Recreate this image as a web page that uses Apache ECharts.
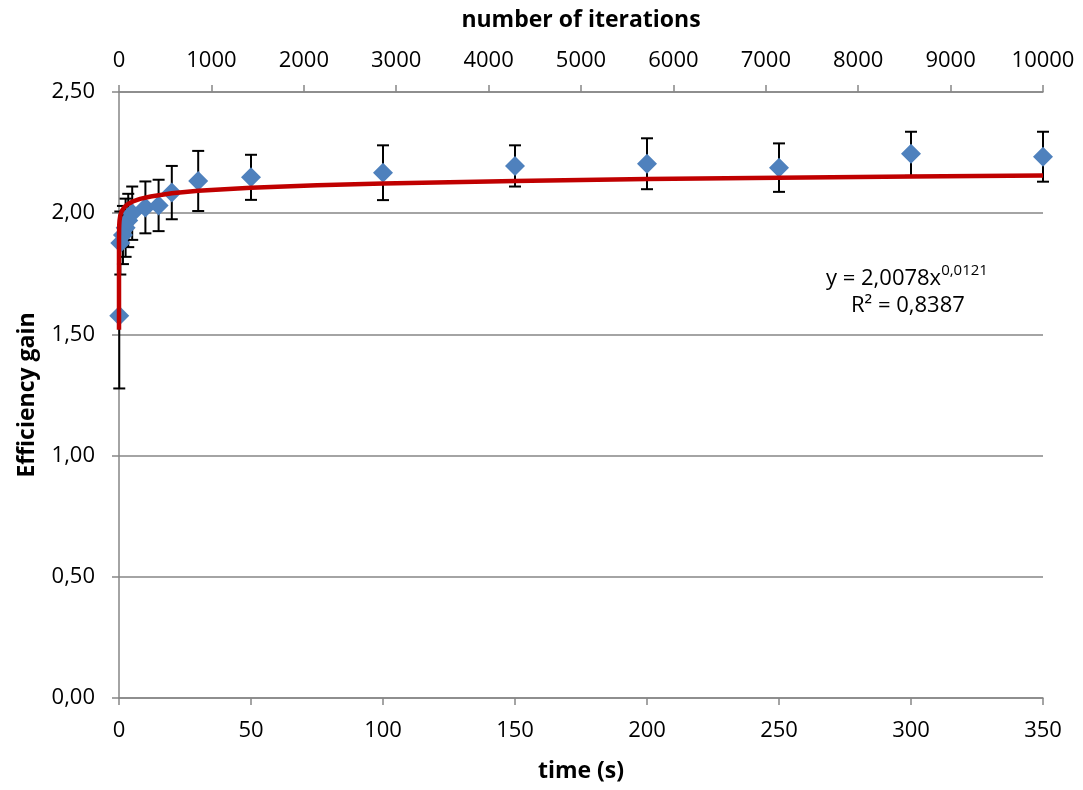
<!DOCTYPE html>
<html>
<head>
<meta charset="utf-8">
<script src="https://cdn.jsdelivr.net/npm/echarts@6/dist/echarts.min.js"></script>
<style>
  html, body { margin: 0; padding: 0; background: #fff; }
  #chart { width: 1083px; height: 790px; }
</style>
</head>
<body>
<div id="chart"></div>
<script>
// measured points (time in s, efficiency gain, error bar half width)
const times = [0.1, 0.5, 1.5, 2.5, 3.5, 5, 10, 15, 20, 30, 50, 100, 150, 200, 250, 300, 350];
const gains = [1.577, 1.877, 1.91, 1.94, 1.97, 2.0, 2.024, 2.032, 2.085, 2.133, 2.148, 2.167, 2.195, 2.204, 2.188, 2.245, 2.233];
const errors = [0.30, 0.13, 0.12, 0.12, 0.11, 0.11, 0.107, 0.106, 0.11, 0.124, 0.093, 0.113, 0.085, 0.105, 0.10, 0.091, 0.103];

// power trendline as printed on the chart: y = a * x^b
const TREND_A = 2.0078;
const TREND_B = 0.0121;
const trendX = [1e-10, 1e-8, 1e-6, 1e-4, 1e-3, 0.01, 0.05, 0.1, 0.2, 0.5, 1, 2, 3, 5, 8, 12, 20, 30, 50, 75, 100, 150, 200, 250, 300, 350];

const timeTicks = { min: 0, max: 350, interval: 50 };
const iterTicks = { min: 0, max: 10000, interval: 1000 };

const FONT = '"Open Sans", "Liberation Sans", sans-serif';
const AXIS_GREY = '#868686';

const points = times.map((t, i) => [t, gains[i]]);
const bars = times.map((t, i) => [t, gains[i] - errors[i], gains[i] + errors[i]]);
const trend = trendX.map(x => [x, TREND_A * Math.pow(x, TREND_B)]);

const chart = echarts.init(document.getElementById('chart'));

const renderErrorBar = (params, api) => {
  const lo = api.coord([api.value(0), api.value(1)]);
  const hi = api.coord([api.value(0), api.value(2)]);
  const half = 6;
  const style = { stroke: '#000', lineWidth: 2 };
  return {
    type: 'group',
    children: [
      { type: 'line', shape: { x1: lo[0], y1: lo[1], x2: hi[0], y2: hi[1] }, style },
      { type: 'line', shape: { x1: lo[0] - half, y1: lo[1], x2: lo[0] + half, y2: lo[1] }, style },
      { type: 'line', shape: { x1: hi[0] - half, y1: hi[1], x2: hi[0] + half, y2: hi[1] }, style },
    ],
  };
};

const axisCommon = {
  axisLine: { show: true, lineStyle: { color: AXIS_GREY, width: 1.5 } },
  axisTick: { show: true, length: 7, lineStyle: { color: AXIS_GREY, width: 1.5 } },
  axisLabel: { color: '#000', fontFamily: FONT, fontSize: 22 },
  splitLine: { show: false },
  nameTextStyle: { color: '#000', fontFamily: FONT, fontSize: 23, fontWeight: 'bold' },
};

chart.setOption({
  animation: false,
  backgroundColor: '#fff',
  grid: { left: 119, right: 40, top: 92, bottom: 92, containLabel: false },
  xAxis: [
    {
      ...axisCommon,
      type: 'value',
      position: 'bottom',
      ...timeTicks,
      name: 'time (s)',
      nameLocation: 'middle',
      nameGap: 62,
      axisLabel: { ...axisCommon.axisLabel, margin: 22 },
    },
    {
      ...axisCommon,
      type: 'value',
      position: 'top',
      ...iterTicks,
      name: 'number of iterations',
      nameLocation: 'middle',
      nameGap: 60,
      axisLabel: { ...axisCommon.axisLabel, margin: 20, formatter: v => String(v) },
    },
  ],
  yAxis: {
    ...axisCommon,
    type: 'value',
    min: 0,
    max: 2.5,
    interval: 0.5,
    name: 'Efficiency gain',
    nameLocation: 'middle',
    nameGap: 80,
    axisLabel: {
      ...axisCommon.axisLabel,
      margin: 24,
      formatter: v => v.toFixed(2).replace('.', ','),
    },
    splitLine: { show: true, lineStyle: { color: AXIS_GREY, width: 1.5 } },
  },
  series: [
    {
      type: 'custom',
      xAxisIndex: 0,
      renderItem: renderErrorBar,
      encode: { x: 0, y: [1, 2] },
      data: bars,
      z: 2,
    },
    {
      type: 'scatter',
      xAxisIndex: 0,
      symbol: 'diamond',
      symbolSize: 20,
      itemStyle: { color: '#4F81BD', opacity: 1 },
      data: points,
      z: 3,
    },
    {
      type: 'line',
      xAxisIndex: 0,
      showSymbol: false,
      symbol: 'none',
      lineStyle: { color: '#C00000', width: 4.5 },
      data: trend,
      z: 4,
    },
  ],
  graphic: [
    {
      type: 'text',
      left: 826,
      top: 263,
      style: {
        text: '{n|y = 2,0078x}{s|0,0121}',
        rich: {
          n: { fontFamily: FONT, fontSize: 22, fill: '#000', verticalAlign: 'bottom' },
          s: { fontFamily: FONT, fontSize: 15, fill: '#000', verticalAlign: 'top', padding: [0, 0, 12, 0] },
        },
      },
    },
    {
      type: 'text',
      left: 851,
      top: 295,
      style: { text: 'R² = 0,8387', fontFamily: FONT, fontSize: 22, fill: '#000' },
    },
  ],
});
</script>
</body>
</html>
